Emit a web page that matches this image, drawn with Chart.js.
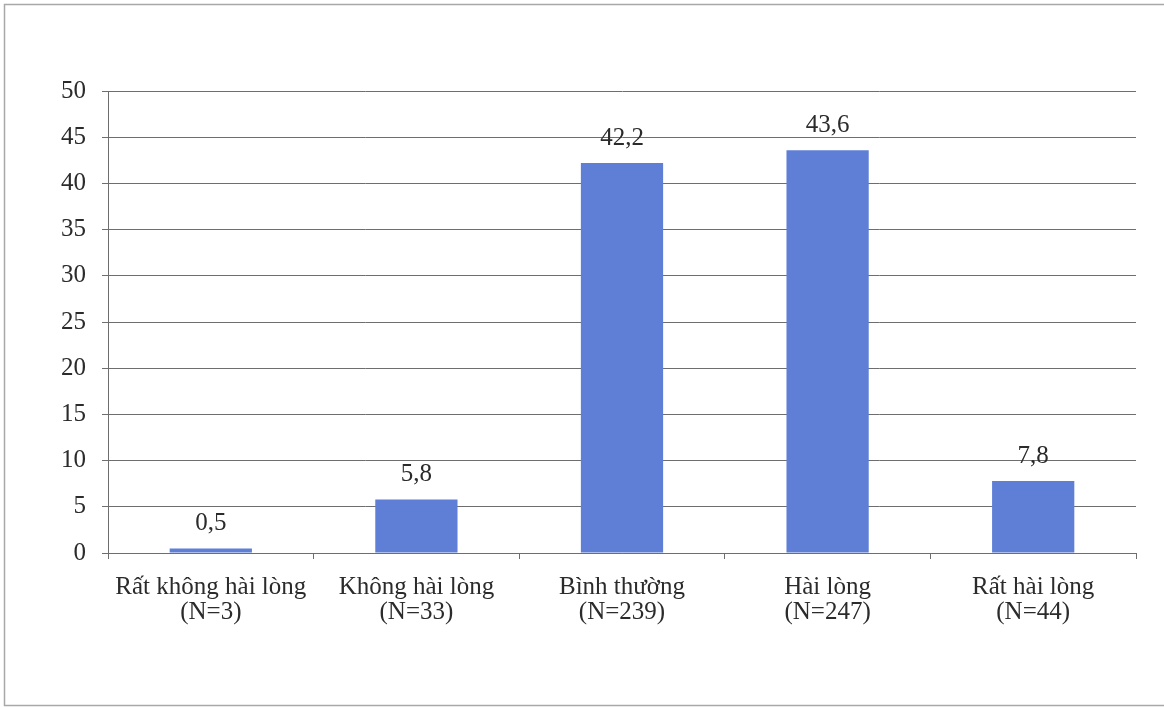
<!DOCTYPE html>
<html>
<head>
<meta charset="utf-8">
<script src="https://cdn.jsdelivr.net/npm/chart.js@4.4.1/dist/chart.umd.min.js"></script>
<style>
  html, body { margin: 0; padding: 0; background: #fff; }
  #wrap { width: 1164px; height: 708px; position: relative; }
</style>
</head>
<body>
<div id="wrap"><canvas id="chart" width="1164" height="708"></canvas></div>
<script>
// Mức độ hài lòng (%)
const categories = [
  ['Rất không hài lòng', '(N=3)'],
  ['Không hài lòng', '(N=33)'],
  ['Bình thường', '(N=239)'],
  ['Hài lòng', '(N=247)'],
  ['Rất hài lòng', '(N=44)']
];
const percentValues = [0.5, 5.8, 42.2, 43.6, 7.8];
const yTicks = [0, 5, 10, 15, 20, 25, 30, 35, 40, 45, 50];

const FONT = '"Liberation Serif", "Times New Roman", serif';
const TEXT = '#2b2b2b';
const GRID = '#6e6e6e';

// outer frame around the whole figure
const framePlugin = {
  id: 'frame',
  beforeDraw(chart) {
    const ctx = chart.ctx;
    ctx.save();
    ctx.fillStyle = '#ffffff';
    ctx.fillRect(0, 0, chart.width, chart.height);
    ctx.strokeStyle = '#a8a8a8';
    ctx.lineWidth = 1.5;
    ctx.strokeRect(4.5, 4.5, chart.width + 10, chart.height - 7);
    ctx.restore();
  }
};

// value above each bar, decimal comma
const valueLabels = {
  id: 'valueLabels',
  afterDatasetsDraw(chart) {
    const ctx = chart.ctx;
    const meta = chart.getDatasetMeta(0);
    ctx.save();
    ctx.font = '25px ' + FONT;
    ctx.fillStyle = TEXT;
    ctx.textAlign = 'center';
    ctx.textBaseline = 'alphabetic';
    meta.data.forEach((bar, i) => {
      const txt = percentValues[i].toFixed(1).replace('.', ',');
      ctx.fillText(txt, bar.x, bar.y - 18);
    });
    ctx.restore();
  }
};

new Chart(document.getElementById('chart'), {
  type: 'bar',
  data: {
    labels: categories,
    datasets: [{
      data: percentValues,
      backgroundColor: '#5f7fd6',
      borderWidth: 0,
      categoryPercentage: 1,
      barPercentage: 0.4
    }]
  },
  options: {
    responsive: false,
    animation: false,
    layout: { padding: { top: 91, right: 28, bottom: 0, left: 0 } },
    plugins: {
      legend: { display: false },
      tooltip: { enabled: false }
    },
    scales: {
      y: {
        min: 0,
        max: 50,
        afterBuildTicks(scale) {
          scale.ticks = yTicks.map(v => ({ value: v }));
        },
        afterFit(scale) { scale.width = 108; },
        border: { display: true, color: GRID, width: 1 },
        grid: { color: GRID, lineWidth: 1, drawTicks: true, tickLength: 6 },
        ticks: {
          padding: 16,
          color: TEXT,
          font: { family: FONT, size: 25 }
        }
      },
      x: {
        afterFit(scale) { scale.height = 155; },
        border: { display: true, color: GRID, width: 1 },
        grid: { drawOnChartArea: false, drawTicks: true, tickLength: 6, color: GRID, offset: true },
        ticks: {
          padding: 16,
          color: TEXT,
          maxRotation: 0,
          autoSkip: false,
          font: { family: FONT, size: 25, lineHeight: 1.0 }
        }
      }
    }
  },
  plugins: [framePlugin, valueLabels]
});
</script>
</body>
</html>
